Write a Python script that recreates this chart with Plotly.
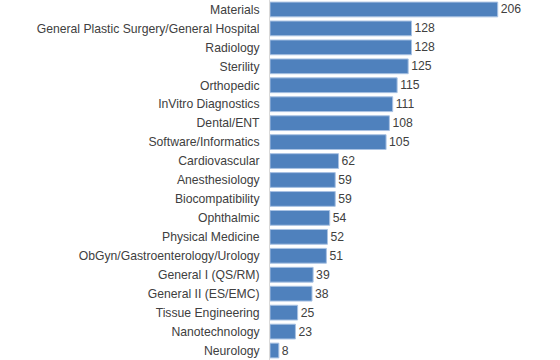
import plotly.graph_objects as go

categories = ["Materials", "General Plastic Surgery/General Hospital", "Radiology", "Sterility",
              "Orthopedic", "InVitro Diagnostics", "Dental/ENT", "Software/Informatics",
              "Cardiovascular", "Anesthesiology", "Biocompatibility", "Ophthalmic",
              "Physical Medicine", "ObGyn/Gastroenterology/Urology", "General I (QS/RM)",
              "General II (ES/EMC)", "Tissue Engineering", "Nanotechnology", "Neurology"]
values = [206, 128, 128, 125, 115, 111, 108, 105, 62, 59, 59, 54, 52, 51, 39, 38, 25, 23, 8]

fig = go.Figure(go.Bar(
    x=values, y=categories, orientation="h",
    marker=dict(color="#4f81bd", line=dict(color="#a9c2e3", width=1)),
    text=[str(v) for v in values], textposition="outside", cliponaxis=False,
    textfont=dict(family="Liberation Sans, Arial", size=12.2, color="#404040"),
    width=0.78,
))
fig.update_layout(
    width=560, height=360,
    margin=dict(l=270, r=30, t=0, b=0, autoexpand=False),
    paper_bgcolor="white", plot_bgcolor="white",
    font=dict(family="Liberation Sans, Arial", size=12.2, color="#404040"),
    showlegend=False,
)
fig.update_xaxes(range=[0, 235.2], visible=False, automargin=False)
fig.update_yaxes(range=[len(categories) - 0.5, -0.5], ticks="", showgrid=False,
                 ticklabelstandoff=7, automargin=False,
                 showline=True, linecolor="#d9d9d9", linewidth=1)
fig.write_html("out.html", config={"displayModeBar": False},
               post_script="document.body.style.margin='0';document.body.style.padding='0';")
